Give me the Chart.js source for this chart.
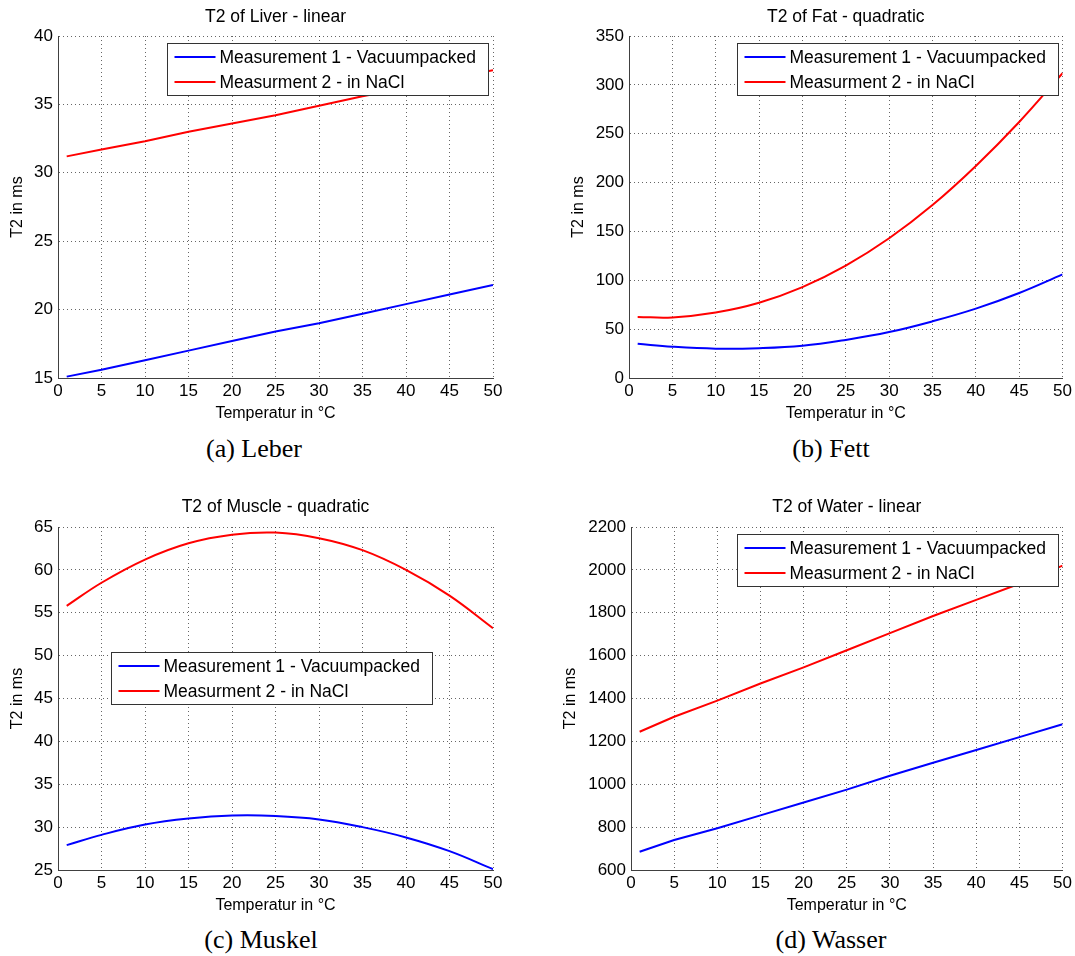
<!DOCTYPE html>
<html>
<head>
<meta charset="utf-8">
<script src="https://cdn.jsdelivr.net/npm/chart.js@4/dist/chart.umd.min.js"></script>
<style>
    body { margin: 0; background: #fff; width: 1075px; height: 956px; position: relative; overflow: hidden; }
    .panel { position: absolute; }
    .cap { position: absolute; font-family: "Liberation Serif", "DejaVu Serif", serif; font-size: 26px; color: #000; transform: translate(-50%, -50%); white-space: nowrap; }
</style>
</head>
<body>
<div class="panel" style="left:0;top:0;width:520px;height:425px"><canvas id="liver"></canvas></div>
<div class="panel" style="left:545px;top:0;width:530px;height:425px"><canvas id="fat"></canvas></div>
<div class="panel" style="left:0;top:490px;width:520px;height:427px"><canvas id="muscle"></canvas></div>
<div class="panel" style="left:545px;top:490px;width:530px;height:427px"><canvas id="water"></canvas></div>
<div class="cap" style="left:254px;top:449px">(a) Leber</div>
<div class="cap" style="left:831px;top:449px">(b) Fett</div>
<div class="cap" style="left:261px;top:940px">(c) Muskel</div>
<div class="cap" style="left:831px;top:940px">(d) Wasser</div>
<script>
// Temperatures (°C) the curves are read at
const temps = [1, 5, 10, 15, 20, 25, 30, 35, 40, 45, 50];
const xTicks = [0, 5, 10, 15, 20, 25, 30, 35, 40, 45, 50];

// T2 in ms
const liverVac = [15.1, 15.6, 16.3, 17.0, 17.7, 18.4, 19.0, 19.7, 20.4, 21.1, 21.8];
const liverNaCl = [31.2, 31.7, 32.3, 33.0, 33.6, 34.2, 34.9, 35.6, 36.2, 36.9, 37.5];
const fatVac = [35, 32, 30, 30.5, 33, 39, 47, 58, 71, 87, 106];
const fatNaCl = [62.5, 62, 67, 77, 93, 115, 143, 177, 217, 262, 312];
const muscleVac = [27.9, 29.1, 30.3, 31.0, 31.35, 31.3, 30.9, 30.0, 28.8, 27.2, 25.1];
const muscleNaCl = [55.8, 58.5, 61.2, 63.1, 64.1, 64.35, 63.7, 62.3, 60.0, 57.0, 53.2];
const waterVac = [685, 740, 795, 855, 915, 975, 1040, 1100, 1160, 1220, 1280];
const waterNaCl = [1245, 1315, 1390, 1470, 1545, 1625, 1705, 1785, 1860, 1935, 2020];

const seriesNames = ['Measurement 1 - Vacuumpacked', 'Measurment 2 - in NaCl'];
const seriesColors = ['#0000ff', '#ff0000'];

const FONT = '"Liberation Sans", Arial, sans-serif';

// draws the plot title and a MATLAB style legend box inside the plot area
const matlabDecor = {
    id: 'matlabDecor',
    afterDatasetsDraw(chart, args, opts) {
        const ctx = chart.ctx;
        const a = chart.chartArea;
        ctx.save();
        ctx.fillStyle = '#000';
        ctx.font = '17.5px ' + FONT;
        ctx.textAlign = 'center';
        ctx.textBaseline = 'middle';
        ctx.fillText(opts.title, (a.left + a.right) / 2, 17);

        const bx = Math.round(a.left + opts.lx) + 0.5;
        const by = Math.round(a.top + opts.ly) + 0.5;
        const bw = 321, bh = 52;
        ctx.fillStyle = '#fff';
        ctx.fillRect(bx, by, bw, bh);
        ctx.strokeStyle = '#333';
        ctx.lineWidth = 1;
        ctx.strokeRect(bx, by, bw, bh);
        ctx.font = '17.5px ' + FONT;
        ctx.textAlign = 'left';
        chart.data.datasets.forEach((ds, i) => {
            const yy = by + 13.5 + i * 25;
            ctx.strokeStyle = ds.borderColor;
            ctx.lineWidth = 2;
            ctx.beginPath();
            ctx.moveTo(bx + 7, yy);
            ctx.lineTo(bx + 48, yy);
            ctx.stroke();
            ctx.fillStyle = '#000';
            ctx.fillText(ds.label, bx + 52, yy + 1);
        });
        ctx.restore();
    }
};

function makeChart(id, cfg) {
    const ctx = document.getElementById(id).getContext('2d');
    const w = cfg.w, h = cfg.h;
    new Chart(ctx, {
        type: 'line',
        data: {
            datasets: cfg.series.map((vals, i) => ({
                label: seriesNames[i],
                data: temps.map((t, j) => ({ x: t, y: vals[j] })),
                borderColor: seriesColors[i],
                borderWidth: 2,
                pointRadius: 0,
                tension: cfg.tension,
                fill: false
            }))
        },
        options: {
            responsive: true,
            maintainAspectRatio: false,
            animation: false,
            events: [],
            layout: {
                padding: { top: cfg.top, right: w - cfg.right, left: 0, bottom: 0 }
            },
            scales: {
                x: {
                    type: 'linear',
                    min: 0,
                    max: 50,
                    afterBuildTicks: s => { s.ticks = xTicks.map(v => ({ value: v })); },
                    afterFit: s => { s.height = h - cfg.bottom; },
                    grid: { color: 'rgba(0,0,0,0.6)', lineWidth: 1, drawTicks: false },
                    border: { color: '#404040', width: 1, dash: [1, 3] },
                    ticks: { color: '#000', font: { family: FONT, size: 17 }, padding: 3, maxRotation: 0, callback: v => String(v) },
                    title: { display: true, text: 'Temperatur in °C', color: '#000', font: { family: FONT, size: 16 }, padding: { top: 0, bottom: cfg.xtPad } }
                },
                y: {
                    min: cfg.ymin,
                    max: cfg.ymax,
                    afterFit: s => { s.width = cfg.left; },
                    grid: { color: 'rgba(0,0,0,0.6)', lineWidth: 1, drawTicks: false },
                    border: { color: '#404040', width: 1, dash: [1, 3] },
                    ticks: { stepSize: cfg.step, color: '#000', font: { family: FONT, size: 17 }, padding: 5, callback: v => String(v) },
                    title: { display: true, text: 'T2 in ms', color: '#000', font: { family: FONT, size: 16 }, padding: { top: cfg.ytX - 9.6, bottom: 0 } }
                }
            },
            plugins: {
                legend: { display: false },
                tooltip: { enabled: false },
                matlabDecor: { title: cfg.title, lx: cfg.lx, ly: cfg.ly }
            }
        },
        plugins: [matlabDecor]
    });
}

window.onload = function () {
    makeChart('liver', {
        title: 'T2 of Liver - linear', series: [liverVac, liverNaCl], tension: 0,
        w: 520, h: 425, left: 58, right: 493, top: 36, bottom: 378,
        ymin: 15, ymax: 40, step: 5, ytX: 18, xtPad: 2, lx: 109, ly: 7
    });
    makeChart('fat', {
        title: 'T2 of Fat - quadratic', series: [fatVac, fatNaCl], tension: 0.4,
        w: 530, h: 425, left: 84, right: 519, top: 36, bottom: 378,
        ymin: 0, ymax: 350, step: 50, ytX: 34, xtPad: 2, lx: 108, ly: 7
    });
    makeChart('muscle', {
        title: 'T2 of Muscle - quadratic', series: [muscleVac, muscleNaCl], tension: 0.4,
        w: 520, h: 427, left: 58, right: 493, top: 37, bottom: 380,
        ymin: 25, ymax: 65, step: 5, ytX: 18, xtPad: 2, lx: 53, ly: 125
    });
    makeChart('water', {
        title: 'T2 of Water - linear', series: [waterVac, waterNaCl], tension: 0,
        w: 530, h: 427, left: 86, right: 519, top: 37, bottom: 380,
        ymin: 600, ymax: 2200, step: 200, ytX: 26, xtPad: 2, lx: 106, ly: 7
    });
};
</script>
</body>
</html>
